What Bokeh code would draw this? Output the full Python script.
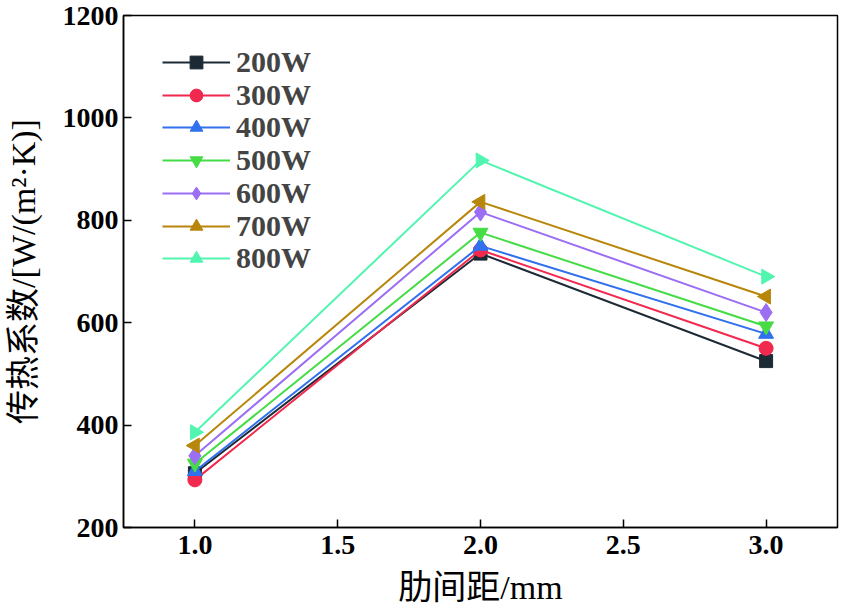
import math
from bokeh.plotting import figure
from bokeh.models import FixedTicker, Legend, LegendItem, Range1d, NumeralTickFormatter
from bokeh.embed import file_html
from bokeh.resources import INLINE

x_vals = [1.0, 2.0, 3.0]
series_names = ["200W", "300W", "400W", "500W", "600W", "700W", "800W"]
v200 = [306, 735, 525]
v300 = [293, 742, 550]
v400 = [310, 750, 578]
v500 = [325, 776, 593]
v600 = [340, 816, 620]
v700 = [360, 836, 651]
v800 = [386, 917, 690]
series_values = [v200, v300, v400, v500, v600, v700, v800]
x_ticks = [1.0, 1.5, 2.0, 2.5, 3.0]
y_ticks = [200, 400, 600, 800, 1000, 1200]
x_title = "肋间距/mm"
y_title = "传热系数/[W/(m²·K)]"

colors = ["#1c2a35", "#f2294e", "#3171ee", "#45dc45", "#9b6ef3", "#b8860b", "#52f5b0"]
markers = ["square", "circle", "triangle", "inverted_triangle", "diamond", "triangle", "triangle"]
angles = [0, 0, 0, 0, 0, math.pi / 2, -math.pi / 2]
sizes = [13, 14, 15, 15, 18, 15, 15]

serif = "'Liberation Serif', 'Times New Roman', 'Noto Sans CJK SC'"

p = figure(width=841, height=608, output_backend="svg", toolbar_location=None,
           x_range=Range1d(0.75, 3.25), y_range=Range1d(200, 1200),
           min_border_left=123, min_border_right=4, min_border_top=15, min_border_bottom=81)
p.grid.visible = False
p.outline_line_color = "black"
p.outline_line_width = 1.5
p.background_fill_color = "white"
p.border_fill_color = "white"

row_step = 32.7
for i, (name, vals, c, m, a, s) in enumerate(zip(series_names, series_values, colors, markers, angles, sizes)):
    r1 = p.line(x_vals, vals, line_color=c, line_width=2)
    r2 = p.scatter(x_vals, vals, marker=m, size=s, angle=a, fill_color=c, line_color=c)
    lg = Legend(items=[LegendItem(label=name, renderers=[r1, r2])],
                location=(39, round(448 - i * row_step)), padding=0, margin=0, spacing=0,
                glyph_width=68, glyph_height=32, label_height=32, label_standoff=6,
                label_text_font=serif, label_text_font_size="30px", label_text_font_style="bold",
                border_line_color=None, background_fill_alpha=0)
    p.add_layout(lg, "center")

for ax in (p.xaxis[0], p.yaxis[0]):
    ax.axis_line_width = 1.5
    ax.major_tick_line_width = 1.5
    ax.major_tick_in = 8
    ax.major_tick_out = 0
    ax.minor_tick_in = 0
    ax.minor_tick_out = 0
    ax.major_label_text_font = serif
    ax.major_label_text_font_style = "bold"
    ax.major_label_text_font_size = "28px"
    ax.axis_label_text_font = serif
    ax.axis_label_text_font_style = "normal"
    ax.axis_label_text_font_size = "34px"
    ax.major_label_text_color = "black"
    ax.axis_label_text_color = "black"

p.xaxis.ticker = FixedTicker(ticks=x_ticks)
p.xaxis.formatter = NumeralTickFormatter(format="0.0")
p.xaxis.major_label_standoff = 8
p.xaxis.axis_label = x_title
p.xaxis.axis_label_standoff = 12

p.yaxis.ticker = FixedTicker(ticks=y_ticks)
p.yaxis.major_label_standoff = 5
p.yaxis.axis_label = y_title
p.yaxis.axis_label_standoff = 18

open("out.html", "w").write(file_html(p, INLINE))
